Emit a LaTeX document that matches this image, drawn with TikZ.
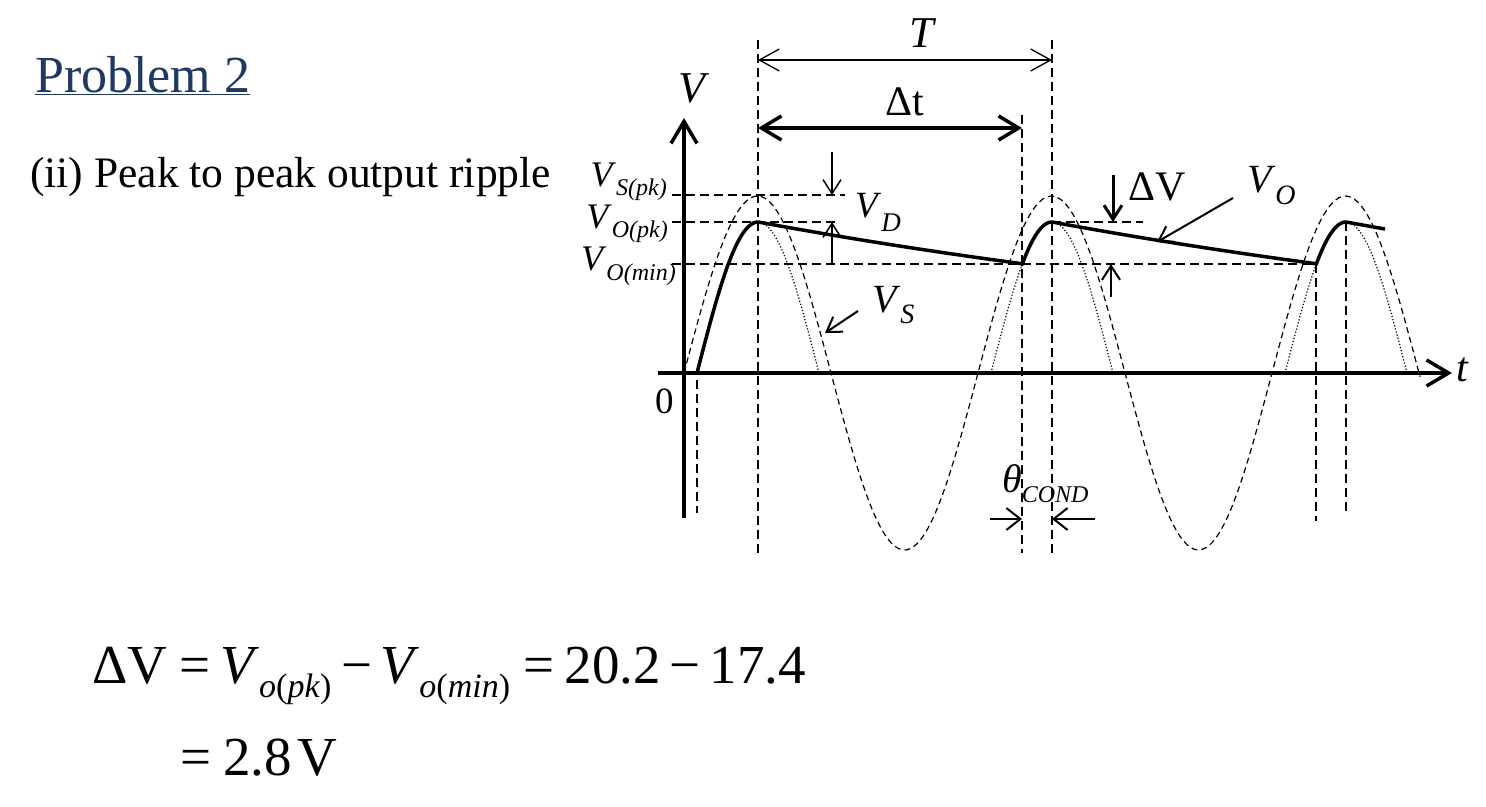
\documentclass[tikz,border=0pt]{standalone}
\usepackage{fontspec}
\setmainfont{Liberation Serif}
\usepackage{tikz}
\usetikzlibrary{arrows.meta}
\definecolor{titleblue}{HTML}{1F3864}
\newcommand{\symsub}[4]{\textit{#1}\raisebox{-#4}{\fontsize{#3}{#3}\selectfont\textit{#2}}}

\begin{document}
\begin{tikzpicture}[
    x=1pt, y=-1pt,
    txt/.style={inner sep=0pt, anchor=base west},
    lab/.style={inner sep=0pt, anchor=base west, font=\fontsize{40}{40}\selectfont},
    axis/.style={line width=3.5pt, -{Straight Barb[length=22pt, width=26pt]}},
    vout/.style={line width=3.5pt, line join=round},
    vsline/.style={line width=1.2pt, dash pattern=on 6pt off 4pt},
    rectline/.style={line width=1.2pt, dotted},
    guide/.style={line width=2pt, dash pattern=on 9pt off 5pt},
    dimthin/.style={line width=1.3pt, {Straight Barb[length=20pt, width=22pt]}-{Straight Barb[length=20pt, width=22pt]}},
    dimthick/.style={line width=3.5pt, {Straight Barb[length=20pt, width=24pt]}-{Straight Barb[length=20pt, width=24pt]}},
    pointer/.style={line width=2pt, -{Straight Barb[length=14pt, width=18pt]}}
]
\useasboundingbox (0,0) rectangle (1486,806);

\node[txt, font=\fontsize{52}{52}\selectfont, text=titleblue] (title) at (35,92) {\underline{Problem 2}};
\node[txt, font=\fontsize{43.5}{43.5}\selectfont] (task) at (30,187) {(ii) Peak to peak output ripple};

% axes
\coordinate (vbot) at (684,518);
\coordinate (vtop) at (684,118);
\coordinate (tleft) at (658,373);
\coordinate (tright) at (1452,373);
\draw[axis] (vbot) -- (vtop);
\draw[axis] (tleft) -- (tright);

% guide lines
\draw[guide] (697,380) -- (697,513);
\draw[guide] (758,40) -- (758,555);
\draw[guide] (1022,115) -- (1022,553);
\draw[guide] (1052,40) -- (1052,553);
\draw[guide] (1316,264) -- (1316,521);
\draw[guide] (1346,222) -- (1346,513);
\draw[guide] (672,195) -- (845,195);
\draw[guide] (672,222) -- (838,222);
\draw[guide] (672,264) -- (1316,264);
\draw[guide] (1052,222) -- (1143,222);

% source, rectified and output waveforms
\draw[vsline] plot[domain=684:1420, samples=200] (\x,{373-177*sin((\x-684)/294*360)});
\foreach \p/\a/\b in {758/697/819, 1052/991/1113, 1346/1285/1407}
    \draw[rectline] plot[domain=\a:\b, samples=40] (\x,{373-151*cos((\x-\p)/61*90)});
\draw[vout] plot[domain=697:758, samples=30] (\x,{373-151*cos((\x-758)/61*90)})
    -- plot[domain=758:1022, samples=40] (\x,{373-151*exp((758-\x)/816)})
    -- plot[domain=1022:1052, samples=20] (\x,{373-151*cos((\x-1052)/61*90)})
    -- plot[domain=1052:1316, samples=40] (\x,{373-151*exp((1052-\x)/816)})
    -- plot[domain=1316:1346, samples=20] (\x,{373-151*cos((\x-1346)/61*90)})
    -- plot[domain=1346:1385, samples=10] (\x,{373-151*exp((1346-\x)/816)});

% dimensions
\draw[dimthin] (758,60) -- (1052,60);
\node[lab, anchor=base, font=\fontsize{44}{44}\selectfont\itshape] (lblT) at (922,47) {T};
\draw[dimthick] (758,128) -- (1022,128);
\node[lab, anchor=base, font=\fontsize{42}{42}\selectfont] (lblDt) at (905,115) {Δt};

\draw[pointer, line width=1.5pt] (832,152) -- (832,195);
\draw[pointer, line width=1.5pt] (832,264) -- (832,222);
\node[lab, font=\fontsize{37}{37}\selectfont] (lblVD) at (855,217) {\symsub{V}{D}{27pt}{14pt}};

\draw[pointer, line width=3pt] (1113,175) -- (1113,222);
\draw[pointer] (1111,297) -- (1111,264);
\node[lab, font=\fontsize{42}{42}\selectfont] (lblDV) at (1128,200) {ΔV};

\node[lab] (lblVO) at (1247,192) {\symsub{V}{O}{28pt}{12pt}};
\draw[pointer] (1233,198) -- (1157,242);
\node[lab] (lblVS) at (872,312) {\symsub{V}{S}{28pt}{11pt}};
\draw[pointer] (858,311) -- (825,333);

\node[lab] (lblCond) at (1002,492) {\symsub{θ}{COND}{24pt}{10pt}};
\draw[pointer, -{Straight Barb[length=14pt, width=22pt]}] (990,519) -- (1022,519);
\draw[pointer, -{Straight Barb[length=14pt, width=22pt]}] (1095,519) -- (1052,519);

% axis labels
\node[lab, font=\fontsize{44}{44}\selectfont\itshape] (lblV) at (678,102) {V};
\node[lab, font=\fontsize{42}{42}\selectfont\itshape] (lblt) at (1456,381) {t};
\node[lab, font=\fontsize{37}{37}\selectfont] (lbl0) at (655,413) {0};
\node[lab, anchor=base east, font=\fontsize{36}{36}\selectfont] (lblVSpk) at (667,186) {\symsub{V}{S(pk)}{24pt}{9pt}};
\node[lab, anchor=base east, font=\fontsize{36}{36}\selectfont] (lblVOpk) at (668,228) {\symsub{V}{O(pk)}{24pt}{9pt}};
\node[lab, anchor=base east, font=\fontsize{36}{36}\selectfont] (lblVOmin) at (676,270) {\symsub{V}{O(min)}{24pt}{10pt}};

% result
\node[txt, font=\fontsize{55}{55}\selectfont] (eqA) at (92,683)
    {ΔV\hspace{.22em}=\hspace{.18em}\textit{V}\raisebox{-14pt}{\fontsize{34}{34}\selectfont\textit{o}(\textit{pk})}\hspace{.18em}−\hspace{.15em}\textit{V}\raisebox{-14pt}{\fontsize{34}{34}\selectfont\textit{o}(\textit{min})}\hspace{.25em}=\hspace{.18em}20.2\hspace{.16em}−\hspace{.16em}17.4};
\node[txt, font=\fontsize{55}{55}\selectfont] (eqB) at (180,775) {=\hspace{.22em}2.8\hspace{.1em}V};

\end{tikzpicture}
\end{document}
